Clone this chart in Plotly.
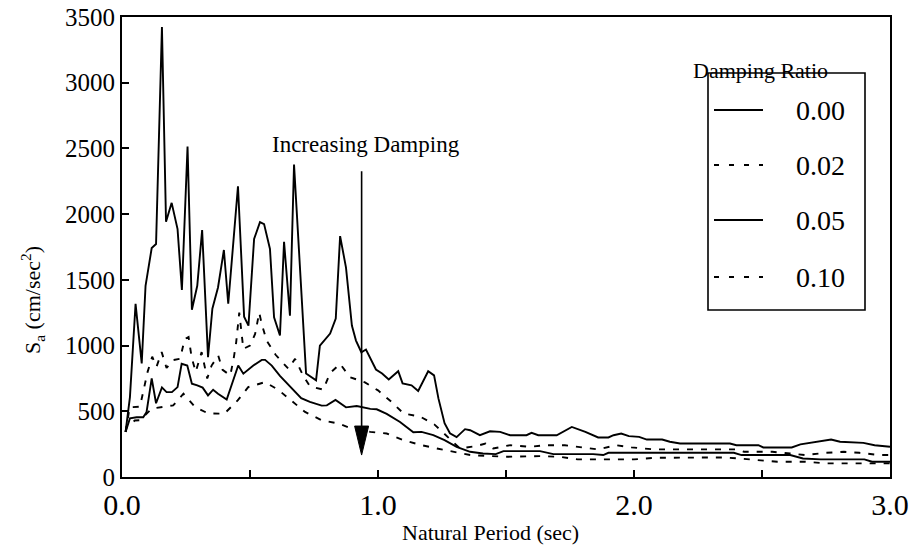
import plotly.graph_objects as go

# Response spectra: natural period (sec) vs spectral acceleration (cm/sec^2)
period_000 = [0.014, 0.031, 0.053, 0.077, 0.092, 0.116, 0.133, 0.156, 0.172, 0.194,
              0.217, 0.234, 0.256, 0.273, 0.294, 0.313, 0.336, 0.353, 0.375, 0.398,
              0.415, 0.453, 0.477, 0.494, 0.516, 0.539, 0.555, 0.578, 0.594, 0.617,
              0.633, 0.656, 0.672, 0.719, 0.758, 0.773, 0.813, 0.835, 0.852, 0.875,
              0.898, 0.914, 0.935, 0.953, 0.992, 1.016, 1.042, 1.079, 1.096, 1.131,
              1.157, 1.196, 1.219, 1.236, 1.26, 1.281, 1.307, 1.34, 1.36, 1.398,
              1.4375, 1.477, 1.516, 1.58, 1.60, 1.626, 1.698, 1.757, 1.81, 1.86,
              1.90, 1.92, 1.95, 1.98, 2.02, 2.05, 2.11, 2.14, 2.18, 2.375,
              2.40, 2.486, 2.505, 2.616, 2.65, 2.72, 2.77, 2.805, 2.896, 2.94, 3.0]
sa_000 = [343, 608, 1318, 864, 1455, 1742, 1773, 3424, 1942, 2086,
          1886, 1424, 2515, 1273, 1455, 1879, 911, 1280, 1442, 1727,
          1318, 2212, 1220, 1152, 1811, 1939, 1924, 1735, 1215, 1076,
          1790, 1227, 2377, 788, 735, 1000, 1091, 1205, 1833, 1593,
          1152, 1038, 949, 970, 818, 788, 742, 805, 712, 697,
          654, 805, 773, 598, 409, 333, 303, 364, 356, 318,
          348, 343, 318, 318, 336, 318, 318, 381, 343, 301,
          301, 318, 331, 311, 305, 285, 285, 268, 255, 255,
          242, 242, 225, 225, 248, 268, 285, 268, 260, 242, 230]

period_002 = [0.014, 0.03, 0.07, 0.10, 0.118, 0.135, 0.155, 0.174, 0.20, 0.227,
              0.245, 0.26, 0.272, 0.288, 0.311, 0.333, 0.35, 0.376, 0.393, 0.423,
              0.436, 0.446, 0.458, 0.474, 0.50, 0.52, 0.536, 0.546, 0.565, 0.60,
              0.65, 0.676, 0.708, 0.734, 0.786, 0.8125, 0.852, 0.89, 0.949, 1.0,
              1.053, 1.1, 1.164, 1.22, 1.275, 1.32, 1.385, 1.42, 1.45, 1.516,
              1.59, 1.66, 1.73, 1.79, 1.86, 1.93, 1.99, 2.08, 2.15, 2.2,
              2.3, 2.4, 2.43, 2.54, 2.61, 2.67, 2.75, 2.82, 2.88, 2.96, 3.0]
sa_002 = [343, 530, 535, 800, 915, 840, 950, 830, 890, 900,
          1050, 1065, 910, 800, 950, 750, 848, 924, 815, 773,
          899, 1025, 1250, 975, 1000, 1089, 1250, 1164, 1038, 930,
          823, 899, 770, 690, 665, 790, 861, 760, 720, 659,
          571, 483, 460, 400, 300, 217, 236, 255, 217, 242,
          230, 242, 242, 225, 210, 242, 225, 210, 210, 205,
          210, 210, 192, 192, 179, 167, 184, 192, 184, 167, 167]

period_005 = [0.014, 0.031, 0.057, 0.083, 0.096, 0.116, 0.133, 0.156, 0.174, 0.195,
              0.217, 0.233, 0.255, 0.273, 0.294, 0.315, 0.336, 0.356, 0.375, 0.409,
              0.454, 0.474, 0.513, 0.546, 0.559, 0.585, 0.617, 0.656, 0.70, 0.734,
              0.78, 0.80, 0.834, 0.875, 0.917, 0.97, 0.995, 1.034, 1.086, 1.138,
              1.17, 1.216, 1.26, 1.307, 1.36, 1.41, 1.46, 1.49, 1.633, 1.685,
              1.84, 1.88, 1.90, 2.18, 2.39, 2.42, 2.61, 2.66, 2.73, 2.90, 2.93, 3.0]
sa_005 = [343, 447, 455, 455, 495, 750, 561, 682, 646, 646,
          684, 861, 848, 710, 697, 680, 621, 664, 634, 589,
          848, 786, 848, 891, 891, 848, 770, 690, 600, 571,
          543, 545, 586, 530, 540, 518, 515, 480, 419, 340,
          343, 318, 280, 230, 192, 179, 174, 197, 197, 174,
          174, 167, 184, 184, 184, 167, 167, 141, 134, 134, 116, 116]

period_010 = [0.014, 0.018, 0.05, 0.07, 0.116, 0.155, 0.20, 0.24, 0.285, 0.337,
              0.40, 0.452, 0.493, 0.559, 0.61, 0.656, 0.715, 0.78, 0.845, 0.897,
              0.93, 0.97, 1.034, 1.10, 1.17, 1.23, 1.294, 1.36, 1.43, 1.50,
              1.63, 1.71, 1.78, 1.84, 1.92, 2.0, 2.08, 2.15, 2.22, 2.35,
              2.41, 2.48, 2.56, 2.67, 2.75, 3.0]
sa_010 = [343, 381, 430, 432, 520, 533, 545, 634, 533, 483,
          482, 583, 684, 722, 664, 590, 495, 432, 407, 369,
          361, 343, 331, 280, 242, 217, 192, 167, 160, 154,
          159, 154, 134, 134, 134, 134, 146, 146, 146, 149,
          141, 129, 116, 116, 104, 104]

damping_labels = ["0.00", "0.02", "0.05", "0.10"]
y_tick_vals = [0, 500, 1000, 1500, 2000, 2500, 3000, 3500]

arrow_period = 0.936
arrow_top_sa = 2326
arrow_base_sa = 379
arrow_tip_sa = 167

FONT = "Liberation Serif, Times New Roman, Times, serif"
DASH_CURVE = "6px,8px"
DASH_KEY = "5px,10px"

series = [
    (period_000, sa_000, "solid"),
    (period_002, sa_002, DASH_CURVE),
    (period_005, sa_005, "solid"),
    (period_010, sa_010, DASH_CURVE),
]

fig = go.Figure()
for (t, sa, dash), name in zip(series, damping_labels):
    fig.add_trace(go.Scatter(
        x=t, y=sa, mode="lines", name=name, showlegend=False,
        line=dict(color="black", width=1.9, dash=dash),
    ))

W, H = 914, 549
ML, MR, MT, MB = 122, 24, 17, 72
PW, PH = W - ML - MR, H - MT - MB


def px(x):
    return (x - ML) / PW


def py(y):
    return (MT + PH - y) / PH


def label(x, y, text, size, **kw):
    return dict(x=px(x), y=py(y), xref="paper", yref="paper", text=text,
                showarrow=False, xanchor="center", yanchor="middle",
                font=dict(family=FONT, size=size, color="black"), **kw)


shapes = []
annotations = []

# "Increasing Damping" arrow
shapes.append(dict(type="line", xref="x", yref="y",
                   x0=arrow_period, x1=arrow_period, y0=arrow_top_sa, y1=arrow_base_sa,
                   line=dict(color="black", width=1.6)))
shapes.append(dict(type="path", xref="x", yref="y",
                   xsizemode="pixel", ysizemode="pixel",
                   xanchor=arrow_period, yanchor=arrow_tip_sa,
                   path="M0,0 L-7,29 L7,29 Z",
                   fillcolor="black", line=dict(color="black", width=1)))
annotations.append(label(366, 145, "Increasing Damping", 23))

# Key box
box_l, box_r, box_t, box_b = 708, 865, 73, 310
shapes.append(dict(type="rect", xref="paper", yref="paper",
                   x0=px(box_l), x1=px(box_r), y0=py(box_b), y1=py(box_t),
                   line=dict(color="black", width=1.6), fillcolor="rgba(0,0,0,0)"))
annotations.append(label(760, 70, "Damping Ratio", 22))
key_rows = [110, 165, 220, 277]
key_dash = ["solid", DASH_KEY, "solid", DASH_KEY]
for row_y, dash, name in zip(key_rows, key_dash, damping_labels):
    shapes.append(dict(type="line", xref="paper", yref="paper",
                       x0=px(714), x1=px(763), y0=py(row_y), y1=py(row_y),
                       line=dict(color="black", width=1.8, dash=dash)))
    annotations.append(label(820, row_y, name, 28))

# Axis titles
annotations.append(label(490, 532, "Natural Period (sec)", 22))
annotations.append(label(32, 300, "S<sub>a</sub> (cm/sec<sup>2</sup>)", 22, textangle=-90))

fig.update_layout(
    width=W, height=H,
    margin=dict(l=ML, r=MR, t=MT, b=MB, autoexpand=False),
    paper_bgcolor="white", plot_bgcolor="white",
    shapes=shapes, annotations=annotations,
    font=dict(family=FONT, color="black"),
)
fig.update_xaxes(range=[0, 3], dtick=1, tick0=0, tickformat=".1f",
                 ticks="inside", ticklen=7, tickwidth=1.5, tickcolor="black",
                 minor=dict(dtick=0.5, ticks="inside", ticklen=7, tickwidth=1.5,
                            tickcolor="black", showgrid=False),
                 showline=True, linewidth=2, linecolor="black", mirror=True,
                 showgrid=False, zeroline=False, automargin=False,
                 tickfont=dict(family=FONT, size=30, color="black"))
fig.update_yaxes(range=[0, 3500], tickvals=y_tick_vals,
                 ticks="inside", ticklen=7, tickwidth=1.5, tickcolor="black",
                 showline=True, linewidth=2, linecolor="black", mirror=True,
                 showgrid=False, zeroline=False, automargin=False,
                 tickfont=dict(family=FONT, size=25, color="black"))

fig.write_html("out.html")
